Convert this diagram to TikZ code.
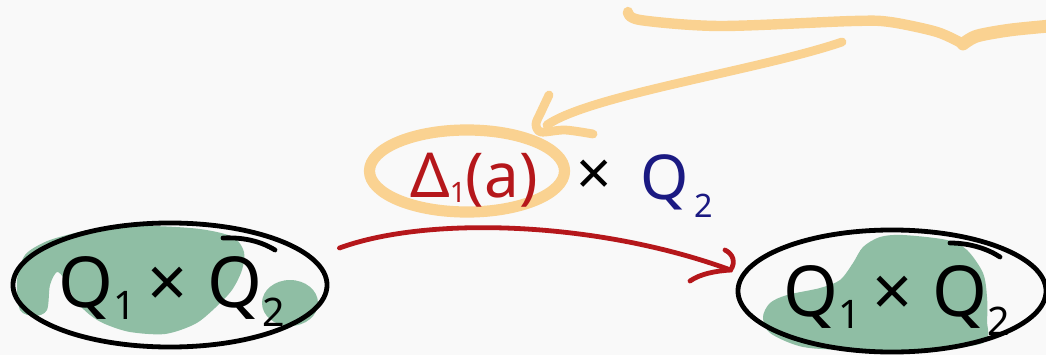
\documentclass[tikz,border=0pt]{standalone}
\usepackage{fontspec}
\setmainfont{Noto Sans}
\usetikzlibrary{shapes.geometric}

\definecolor{paper}{HTML}{F9F9F9}
\definecolor{blobgreen}{HTML}{8FBEA4}
\definecolor{penred}{HTML}{B5171B}
\definecolor{pennavy}{HTML}{1B1A82}
\definecolor{marker}{HTML}{FAD291}

% lowered subscript: drop, size, text
\newcommand{\lowsub}[3]{\raisebox{-#1pt}{\fontsize{#2}{#2}\selectfont #3}}

\begin{document}
\begin{tikzpicture}[x=0.025cm, y=-0.025cm,
    ink/.style={draw=black, line width=0.12cm, line cap=round},
    hlpen/.style={draw=marker, line width=0.28cm, line cap=round, line join=round},
    redpen/.style={draw=penred, line width=0.12cm, line cap=round},
    bigtext/.style={font=\fontsize{50}{50}\selectfont, inner sep=0pt},
    midtext/.style={font=\fontsize{44}{44}\selectfont, inner sep=0pt}]

    % Paper
    \fill[paper] (0,0) rectangle (1046,355);
    \useasboundingbox (0,0) rectangle (1046,355);

    % Green blobs
    \fill[blobgreen] plot[smooth cycle, tension=0.5] coordinates {(90,315) (75,300) (65,280) (57,272) (50,285) (47,310) (35,316) (20,310) (17,280) (25,255) (45,242) (67,235) (100,228) (150,226) (200,229) (233,237) (244,252) (242,270) (232,290) (215,308) (195,324) (165,334) (130,332) (105,324)};
    \fill[blobgreen] (290,303) ellipse [x radius=28, y radius=23];
    \fill[blobgreen] plot[smooth cycle, tension=0.5] coordinates {(880,237) (903,235) (947,240) (967,250) (983,273) (987,297) (987,320) (983,343) (920,350) (853,350) (803,347) (770,333) (763,317) (770,303) (787,295) (820,288) (840,280) (853,263) (863,247)};

    % The two sets
    \node[ink, ellipse, minimum width=7.85cm, minimum height=3.1cm] (lhs) at (170,285) {};
    \node[ink, ellipse, minimum width=7.7cm, minimum height=3.05cm] (rhs) at (892,291) {};
    \draw[ink] (223,238) .. controls (245,237) and (262,242) .. (275,250);
    \draw[ink] (950,243) .. controls (970,243) and (988,249) .. (1000,257);

    % Set labels
    \node[bigtext, anchor=base] (lhslabel) at (172,307) {Q\lowsub{9}{28}{1}\hspace{8pt}×\hspace{14pt}Q\lowsub{14}{28}{2}};
    \node[bigtext, anchor=base] (rhslabel) at (897,316) {Q\lowsub{9}{28}{1}\hspace{8pt}×\hspace{14pt}Q\lowsub{14}{28}{2}};

    % Map between the sets
    \path (lhs.east) ++(10,-37) coordinate (redfrom);
    \path (rhs.west) ++(-5,-21) coordinate (redto);
    \draw[redpen] (redfrom) .. controls (430,215) and (600,222) .. (redto);
    \draw[redpen] (725,250) .. controls (733,254) and (736,262) .. (redto)
        .. controls (715,271) and (700,274) .. (690,281);

    % Highlighted factor
    \node[hlpen, ellipse, minimum width=4.875cm, minimum height=2.05cm] (hl) at (467,171) {};
    \node[midtext, anchor=base west, text=penred] (delta) at (410,197) {Δ\lowsub{4}{20}{1}(a)};
    \node[midtext, anchor=base west] (times) at (576,195) {×};
    \node[midtext, anchor=base west, text=pennavy] (qtwo) at (640,199) {Q\lowsub{13}{23}{\hspace{4pt}2}};

    % Note pointing at the factor
    \coordinate (notefrom) at (842,42);
    \coordinate (notetip) at (547,125);
    \draw[hlpen, line width=0.22cm] (notefrom) .. controls (760,70) and (590,95) .. (notetip);
    \draw[hlpen, line width=0.22cm] plot[smooth] coordinates {(549,95) (541,112) (536,124) (541,132) (565,130) (593,134)};
    \draw[hlpen, line width=0.26cm] plot[smooth, tension=0.5] coordinates {(628,12) (640,20) (720,26) (853,21) (890,22) (937,32) (963,44)};
    \draw[hlpen, line width=0.32cm] plot[smooth, tension=0.5] coordinates {(963,44) (977,36) (1010,30) (1050,26)};
\end{tikzpicture}
\end{document}
